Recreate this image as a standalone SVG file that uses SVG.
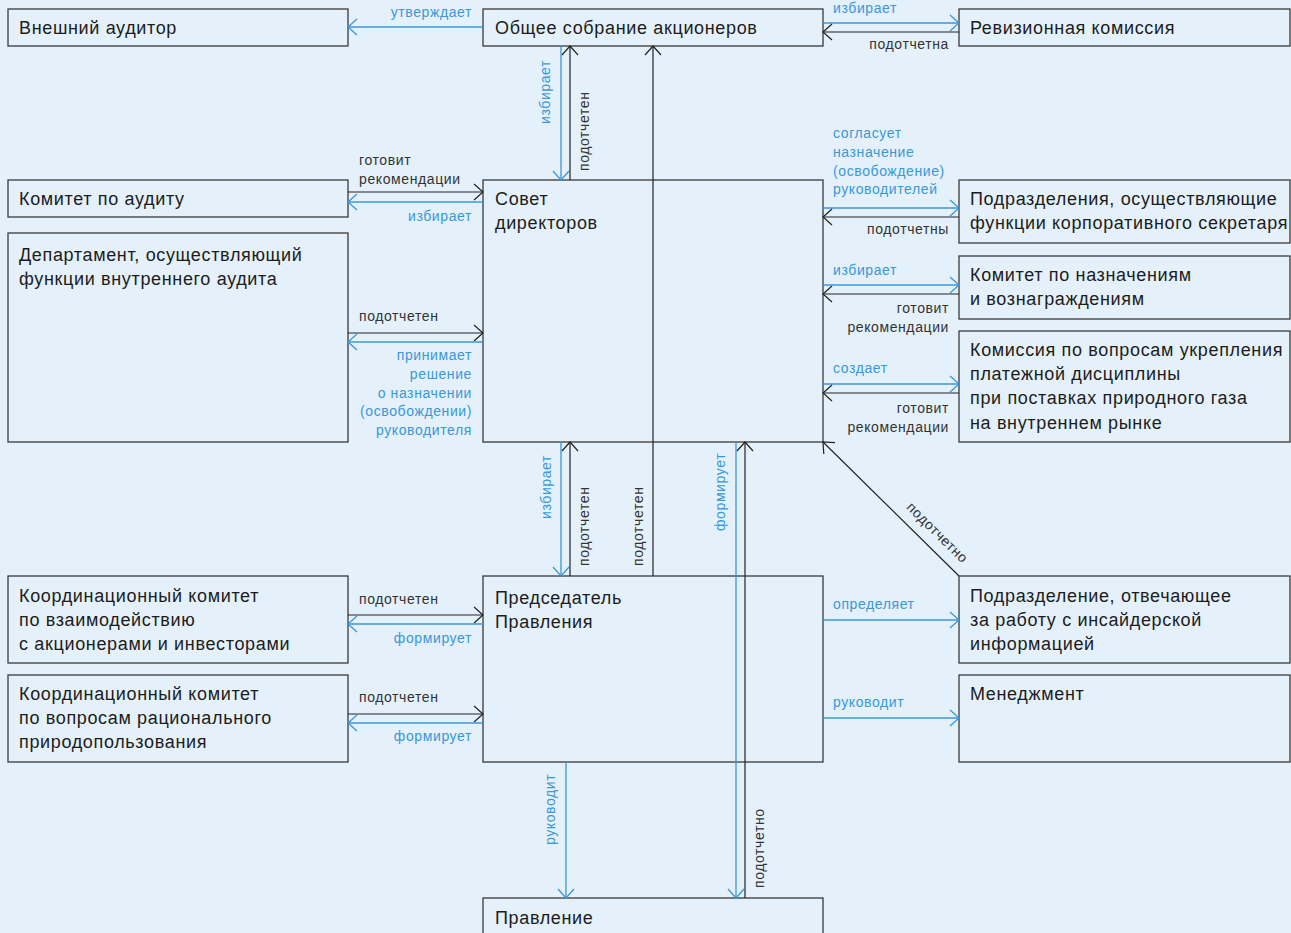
<svg xmlns="http://www.w3.org/2000/svg" width="1291" height="933" viewBox="0 0 1291 933">
<style>
.bg{fill:#e4f1fa}
.box{fill:none;stroke:#3a3a3a;stroke-width:1.3}
.nt{font-family:"Liberation Sans",Arial,sans-serif;font-size:18px;letter-spacing:0.65px;fill:#1c1c1c}
.lb{font-family:"Liberation Sans",Arial,sans-serif;font-size:14px;letter-spacing:0.6px}
.lbb{fill:#3a97d8}
.lbk{fill:#333333}
.end{text-anchor:end}
.mid{text-anchor:middle}
.cb{stroke:#3a97d8;stroke-width:1.3;fill:none;marker-end:url(#ab)}
.ck{stroke:#222222;stroke-width:1.2;fill:none;marker-end:url(#ak)}
</style>
<defs>
<marker id="ab" viewBox="-11 -10 13 20" markerWidth="13" markerHeight="20" refX="0" refY="0" orient="auto" markerUnits="userSpaceOnUse"><path d="M-9,-8 L0,0 L-9,8" fill="none" stroke="#3a97d8" stroke-width="1.3"/></marker>
<marker id="ak" viewBox="-11 -10 13 20" markerWidth="13" markerHeight="20" refX="0" refY="0" orient="auto" markerUnits="userSpaceOnUse"><path d="M-9,-8 L0,0 L-9,8" fill="none" stroke="#222222" stroke-width="1.2"/></marker>
</defs>
<rect class="bg" x="0" y="0" width="1291" height="933"/>

<g id="n1"><rect class="box" x="8" y="9" width="340" height="37"/><text class="nt" x="19" y="34">Внешний аудитор</text></g>
<g id="n2"><rect class="box" x="483" y="9" width="340" height="37"/><text class="nt" x="495" y="34">Общее собрание акционеров</text></g>
<g id="n3"><rect class="box" x="959" y="9" width="331" height="37"/><text class="nt" x="970" y="34">Ревизионная комиссия</text></g>
<g id="n4"><rect class="box" x="8" y="180" width="340" height="37"/><text class="nt" x="19" y="205">Комитет по аудиту</text></g>
<g id="n5"><rect class="box" x="483" y="180" width="340" height="262"/><text class="nt" x="495" y="205">Совет</text><text class="nt" x="495" y="229">директоров</text></g>
<g id="n6"><rect class="box" x="8" y="233" width="340" height="209"/><text class="nt" x="19" y="261">Департамент, осуществляющий</text><text class="nt" x="19" y="285">функции внутреннего аудита</text></g>
<g id="n7"><rect class="box" x="959" y="180" width="331" height="63"/><text class="nt" x="970" y="205">Подразделения, осуществляющие</text><text class="nt" x="970" y="229">функции корпоративного секретаря</text></g>
<g id="n8"><rect class="box" x="959" y="256" width="331" height="63"/><text class="nt" x="970" y="281">Комитет по назначениям</text><text class="nt" x="970" y="305">и вознаграждениям</text></g>
<g id="n9"><rect class="box" x="959" y="331" width="331" height="111"/><text class="nt" x="970" y="356">Комиссия по вопросам укрепления</text><text class="nt" x="970" y="380">платежной дисциплины</text><text class="nt" x="970" y="404">при поставках природного газа</text><text class="nt" x="970" y="429">на внутреннем рынке</text></g>
<g id="n10"><rect class="box" x="8" y="576" width="340" height="87"/><text class="nt" x="19" y="602">Координационный комитет</text><text class="nt" x="19" y="626">по взаимодействию</text><text class="nt" x="19" y="650">с акционерами и инвесторами</text></g>
<g id="n11"><rect class="box" x="8" y="675" width="340" height="87"/><text class="nt" x="19" y="700">Координационный комитет</text><text class="nt" x="19" y="724">по вопросам рационального</text><text class="nt" x="19" y="748">природопользования</text></g>
<g id="n12"><rect class="box" x="483" y="576" width="340" height="186"/><text class="nt" x="495" y="604">Председатель</text><text class="nt" x="495" y="628">Правления</text></g>
<g id="n13"><rect class="box" x="959" y="576" width="331" height="87"/><text class="nt" x="970" y="602">Подразделение, отвечающее</text><text class="nt" x="970" y="626">за работу с инсайдерской</text><text class="nt" x="970" y="650">информацией</text></g>
<g id="n14"><rect class="box" x="959" y="675" width="331" height="87"/><text class="nt" x="970" y="700">Менеджмент</text></g>
<g id="n15"><rect class="box" x="483" y="898" width="340" height="45"/><text class="nt" x="495" y="924">Правление</text></g>

<g id="connectors">
<line class="cb" x1="483" y1="27" x2="348" y2="27"/>
<line class="cb" x1="823" y1="23" x2="959" y2="23"/>
<line class="ck" x1="959" y1="32" x2="823" y2="32"/>
<line class="cb" x1="561" y1="46" x2="561" y2="180"/>
<line class="ck" x1="570" y1="180" x2="570" y2="46"/>
<line class="ck" x1="653" y1="576" x2="653" y2="46"/>
<line class="ck" x1="348" y1="192" x2="483" y2="192"/>
<line class="cb" x1="483" y1="202" x2="348" y2="202"/>
<line class="ck" x1="348" y1="333" x2="483" y2="333"/>
<line class="cb" x1="483" y1="342" x2="348" y2="342"/>
<line class="cb" x1="823" y1="208" x2="959" y2="208"/>
<line class="ck" x1="959" y1="217" x2="823" y2="217"/>
<line class="cb" x1="823" y1="285" x2="959" y2="285"/>
<line class="ck" x1="959" y1="294" x2="823" y2="294"/>
<line class="cb" x1="823" y1="384" x2="959" y2="384"/>
<line class="ck" x1="959" y1="393" x2="823" y2="393"/>
<line class="cb" x1="561" y1="442" x2="561" y2="576"/>
<line class="ck" x1="570" y1="576" x2="570" y2="442"/>
<line class="cb" x1="736" y1="442" x2="736" y2="898"/>
<line class="ck" x1="745" y1="898" x2="745" y2="442"/>
<line class="ck" x1="959" y1="576" x2="823" y2="442"/>
<line class="ck" x1="348" y1="615" x2="483" y2="615"/>
<line class="cb" x1="483" y1="624" x2="348" y2="624"/>
<line class="ck" x1="348" y1="714" x2="483" y2="714"/>
<line class="cb" x1="483" y1="723" x2="348" y2="723"/>
<line class="cb" x1="823" y1="620" x2="959" y2="620"/>
<line class="cb" x1="823" y1="718" x2="959" y2="718"/>
<line class="cb" x1="566" y1="762" x2="566" y2="898"/>

<text class="lb lbb end" x="472" y="17">утверждает</text>
<text class="lb lbb" x="833" y="13">избирает</text>
<text class="lb lbk end" x="949" y="49">подотчетна</text>
<text class="lb lbb" transform="translate(550,124) rotate(-90)">избирает</text>
<text class="lb lbk" transform="translate(589,171) rotate(-90)">подотчетен</text>
<text class="lb lbk" x="359" y="165">готовит</text>
<text class="lb lbk" x="359" y="184">рекомендации</text>
<text class="lb lbb end" x="472" y="221">избирает</text>
<text class="lb lbb" x="833" y="138">согласует</text>
<text class="lb lbb" x="833" y="157">назначение</text>
<text class="lb lbb" x="833" y="176">(освобождение)</text>
<text class="lb lbb" x="833" y="194">руководителей</text>
<text class="lb lbk end" x="949" y="234">подотчетны</text>
<text class="lb lbb" x="833" y="275">избирает</text>
<text class="lb lbk end" x="949" y="313">готовит</text>
<text class="lb lbk end" x="949" y="332">рекомендации</text>
<text class="lb lbb" x="833" y="373">создает</text>
<text class="lb lbk end" x="949" y="413">готовит</text>
<text class="lb lbk end" x="949" y="432">рекомендации</text>
<text class="lb lbk" x="359" y="321">подотчетен</text>
<text class="lb lbb end" x="472" y="360">принимает</text>
<text class="lb lbb end" x="472" y="379">решение</text>
<text class="lb lbb end" x="472" y="398">о назначении</text>
<text class="lb lbb end" x="472" y="416">(освобождении)</text>
<text class="lb lbb end" x="472" y="435">руководителя</text>
<text class="lb lbb" transform="translate(551,519) rotate(-90)">избирает</text>
<text class="lb lbk" transform="translate(589,566) rotate(-90)">подотчетен</text>
<text class="lb lbk" transform="translate(643,566) rotate(-90)">подотчетен</text>
<text class="lb lbb" transform="translate(725,531) rotate(-90)">формирует</text>
<text class="lb lbk mid" transform="translate(934,536) rotate(44.6)">подотчетно</text>
<text class="lb lbk" x="359" y="604">подотчетен</text>
<text class="lb lbb end" x="472" y="643">формирует</text>
<text class="lb lbk" x="359" y="702">подотчетен</text>
<text class="lb lbb end" x="472" y="741">формирует</text>
<text class="lb lbb" x="833" y="609">определяет</text>
<text class="lb lbb" x="833" y="707">руководит</text>
<text class="lb lbb" transform="translate(555,845) rotate(-90)">руководит</text>
<text class="lb lbk" transform="translate(764,888) rotate(-90)">подотчетно</text>
</g>
</svg>
